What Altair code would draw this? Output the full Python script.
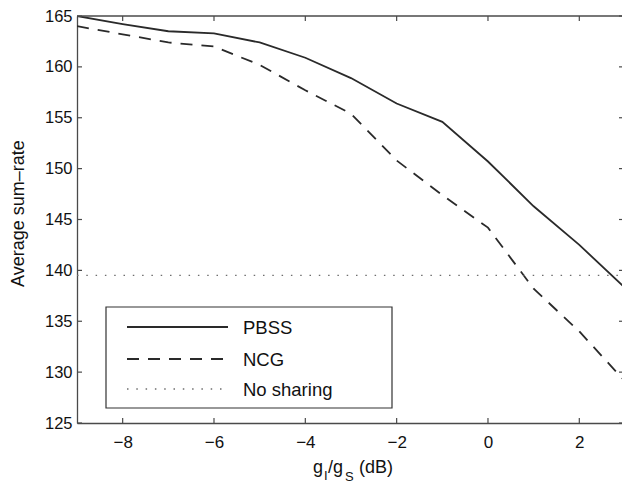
import altair as alt
import pandas as pd

# ---- data ----
x_vals = [-9, -8, -7, -6, -5, -4, -3, -2, -1, 0, 1, 2, 3]
pbss = [165.0, 164.2, 163.5, 163.3, 162.4, 160.9, 158.9, 156.4, 154.6, 150.7, 146.3, 142.5, 138.3]
ncg = [164.0, 163.2, 162.4, 162.0, 160.2, 157.7, 155.4, 150.8, 147.4, 144.2, 138.2, 134.0, 129.1]
no_sharing_level = 139.5
series_names = ["PBSS", "NCG", "No sharing"]
x_ticks = [-8, -6, -4, -2, 0, 2]
y_ticks = [125, 130, 135, 140, 145, 150, 155, 160, 165]
y_title = "Average sum\u2013rate"
x_title_parts = ["g", "I", "/g", "S", " (dB)"]

FONT = "Liberation Sans"
INK = "#2a2a2a"
AX = "#4a4a4a"
W, H = 545, 407

rows = []
for xv, a, b in zip(x_vals, pbss, ncg):
    rows.append({"x": xv, "y": a, "series": series_names[0]})
    rows.append({"x": xv, "y": b, "series": series_names[1]})
    rows.append({"x": xv, "y": no_sharing_level, "series": series_names[2]})
df = pd.DataFrame(rows)

xscale = alt.Scale(domain=[-9, 2.935], nice=False, zero=False)
yscale = alt.Scale(domain=[125, 165], nice=False, zero=False)

xaxis = alt.Axis(
    values=x_ticks, title=None, grid=False, ticks=False, tickSize=0,
    labelPadding=11, labelFont=FONT, labelFontSize=17, labelColor="#111",
    domainColor=AX, domainWidth=1.3, format="d")
yaxis = alt.Axis(
    values=y_ticks, title=y_title, grid=False, ticks=False, tickSize=0,
    labelPadding=5, labelFont=FONT, labelFontSize=16.5, labelColor="#111",
    domainColor=AX, domainWidth=1.3,
    titleFont=FONT, titleFontSize=18, titleFontWeight="normal", titleColor="#111",
    titleAngle=270, titleX=-59, titleY=197, titleAlign="center",
    titleBaseline="middle")

styles = {
    "PBSS": dict(color=INK, strokeWidth=1.8),
    "NCG": dict(color=INK, strokeWidth=1.8, strokeDash=[12, 9]),
    "No sharing": dict(color="#6e6e6e", strokeWidth=1.3, strokeDash=[1.5, 7.8]),
}

base = alt.Chart(df)
layers = []
for name in series_names:
    layers.append(
        base.transform_filter(alt.datum.series == name)
        .mark_line(clip=True, **styles[name])
        .encode(x=alt.X("x:Q", scale=xscale, axis=xaxis),
                y=alt.Y("y:Q", scale=yscale, axis=yaxis),
                order="x:Q")
    )

# inward tick marks (MATLAB style box)
xt = pd.DataFrame({"x": x_ticks})
yt = pd.DataFrame({"y": y_ticks})
tick_kw = dict(color=AX, strokeWidth=1.2)
layers.append(alt.Chart(xt).mark_rule(**tick_kw).encode(
    x=alt.X("x:Q", scale=xscale, axis=xaxis), y=alt.value(H), y2=alt.value(H - 5)))
layers.append(alt.Chart(xt).mark_rule(**tick_kw).encode(
    x=alt.X("x:Q", scale=xscale, axis=xaxis), y=alt.value(0), y2=alt.value(5)))
layers.append(alt.Chart(yt).mark_rule(**tick_kw).encode(
    y=alt.Y("y:Q", scale=yscale, axis=yaxis), x=alt.value(0), x2=alt.value(5)))
layers.append(alt.Chart(yt).mark_rule(**tick_kw).encode(
    y=alt.Y("y:Q", scale=yscale, axis=yaxis), x=alt.value(542), x2=alt.value(547)))

one = pd.DataFrame({"k": [0]})
# top frame line
layers.append(alt.Chart(one).mark_rule(color=AX, strokeWidth=1.3).encode(
    x=alt.value(0), x2=alt.value(W), y=alt.value(0)))

# legend box
LX0, LX1, LY0, LY1 = 29, 315, 291, 392
layers.append(alt.Chart(one).mark_rect(fill="white", stroke="#333", strokeWidth=1.2).encode(
    x=alt.value(LX0), x2=alt.value(LX1), y=alt.value(LY0), y2=alt.value(LY1)))
row_y = [311, 343, 373]
for name, ry in zip(series_names, row_y):
    st = dict(styles[name])
    layers.append(alt.Chart(one).mark_rule(**st).encode(
        x=alt.value(50), x2=alt.value(151), y=alt.value(ry)))
    layers.append(alt.Chart(pd.DataFrame({"label": [name]})).mark_text(
        font=FONT, fontSize=18.5, color="#111", align="left", baseline="middle").encode(
        x=alt.value(166), y=alt.value(ry + 1), text="label:N"))

# x-axis title with subscripts
part_pos = [(236, 457, 18), (247, 464, 13), (251, 457, 18), (268, 465, 13), (282, 457, 18)]
for txt, (px, py, fs) in zip(x_title_parts, part_pos):
    layers.append(alt.Chart(pd.DataFrame({"label": [txt]})).mark_text(
        font=FONT, fontSize=fs, color="#111", align="left", baseline="alphabetic").encode(
        x=alt.value(px), y=alt.value(py), text="label:N"))

chart = alt.layer(*layers).properties(
    width=W, height=H,
    autosize=alt.AutoSizeParams(type="none"),
    padding={"left": 69, "top": 8, "right": 0, "bottom": 63},
    background="white",
).configure_view(stroke=None)

chart.save("out.html", embed_options={"renderer": "svg", "actions": False})
